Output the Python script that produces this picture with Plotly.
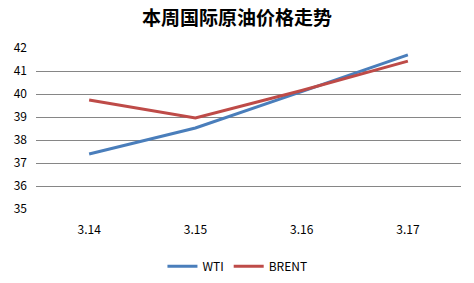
import plotly.graph_objects as go

categories = ["3.14", "3.15", "3.16", "3.17"]
wti = [37.39, 38.52, 40.1, 41.7]
brent = [39.74, 38.96, 40.15, 41.43]
y_ticks = [35, 36, 37, 38, 39, 40, 41, 42]

fig = go.Figure()
fig.add_trace(go.Scatter(x=categories, y=wti, mode="lines", name="WTI",
                         line=dict(color="#4A7EBB", width=3)))
fig.add_trace(go.Scatter(x=categories, y=brent, mode="lines", name="BRENT",
                         line=dict(color="#BE4B48", width=3)))

fig.update_layout(
    width=474, height=283,
    margin=dict(l=36, r=13, t=48, b=74, autoexpand=False),
    paper_bgcolor="white", plot_bgcolor="white",
    font=dict(family="Noto Sans CJK SC, DejaVu Sans, sans-serif", size=12, color="#000"),
    title=dict(text="<b>本周国际原油价格走势</b>", x=0.5, xanchor="center",
               y=0.935, yanchor="middle", font=dict(size=19, color="#000")),
    showlegend=True,
    legend=dict(orientation="h", x=0.474, xanchor="center", y=-0.355, yanchor="middle",
                font=dict(size=12), itemwidth=30),
    xaxis=dict(type="category", range=[-0.5, 3.5], showgrid=False, zeroline=False,
               showline=False, ticks="", ticklabelstandoff=12),
    yaxis=dict(range=[35, 42], tickvals=y_ticks, showgrid=True, gridcolor="#868686",
               gridwidth=1, zeroline=False, showline=False, ticks="",
               ticklabelstandoff=8),
)

fig.write_html("out.html")
